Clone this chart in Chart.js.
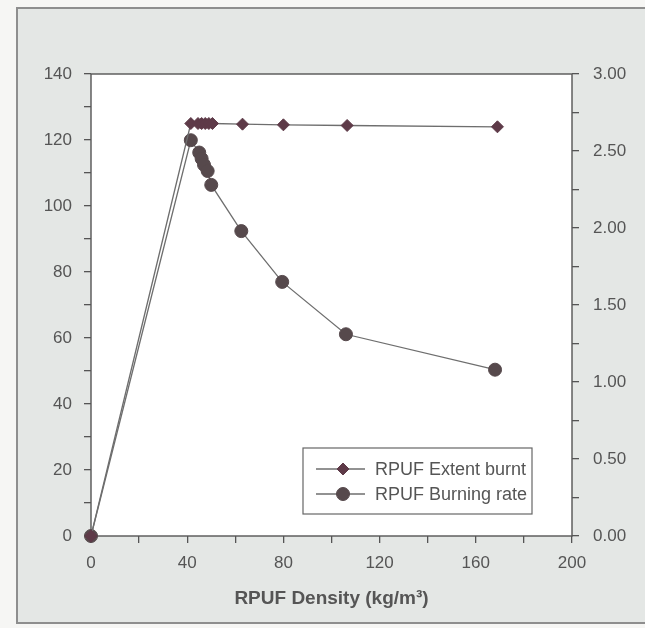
<!doctype html>
<html lang="en">
<head>
<meta charset="utf-8">
<title>RPUF Density</title>
<script src="https://cdn.jsdelivr.net/npm/chart.js@4.4.1/dist/chart.umd.min.js"></script>
<style>
    html, body { margin: 0; padding: 0; background: #f6f6f4; }
    #frame {
        position: absolute; left: 16px; top: 7px; width: 640px; height: 617px;
        box-sizing: border-box; background: #e4e7e5; border: 2px solid #8e8e8e;
    }
    #wrap { position: absolute; left: 0; top: 0; width: 645px; height: 628px; }
</style>
</head>
<body>
<div id="frame"></div>
<div id="wrap"><canvas id="myChart" width="645" height="628"></canvas></div>
<script>
    // values
    var densityExtent = [0, 41.5, 44.5, 46, 47.5, 49, 50.5, 63, 80, 106.5, 169];
    var extentBurnt   = [0, 125, 125, 125, 125, 125, 125, 124.8, 124.6, 124.4, 124];

    var densityRate  = [0, 41.5, 45, 46, 47, 48.5, 50, 62.5, 79.5, 106, 168];
    var burningRate  = [0, 2.57, 2.49, 2.45, 2.41, 2.37, 2.28, 1.98, 1.65, 1.31, 1.08];

    var xTicks  = [0, 40, 80, 120, 160, 200];
    var yTicks  = [0, 20, 40, 60, 80, 100, 120, 140];
    var y1Ticks = [0, 0.5, 1, 1.5, 2, 2.5, 3];

    var FONT = "'Liberation Sans', Arial, sans-serif";
    var TXT = '#555';
    var AXIS = '#555';

    function pts(xs, ys) {
        return xs.map(function (x, i) { return { x: x, y: ys[i] }; });
    }

    // white plot box + frame
    var plotBox = {
        id: 'plotBox',
        beforeDraw: function (chart) {
            var a = chart.chartArea, ctx = chart.ctx;
            ctx.save();
            ctx.fillStyle = '#fff';
            ctx.fillRect(a.left, a.top, a.right - a.left, a.bottom - a.top);
            ctx.strokeStyle = AXIS;
            ctx.lineWidth = 1.4;
            ctx.strokeRect(a.left, a.top, a.right - a.left, a.bottom - a.top);
            ctx.restore();
        }
    };

    // boxed legend inside the plot, bottom right
    var boxLegend = {
        id: 'boxLegend',
        afterDraw: function (chart) {
            var a = chart.chartArea, ctx = chart.ctx;
            var w = 229, h = 66;
            var x0 = a.right - 40 - w, y0 = a.bottom - 22 - h;
            ctx.save();
            ctx.fillStyle = '#fff';
            ctx.fillRect(x0, y0, w, h);
            ctx.strokeStyle = '#666';
            ctx.lineWidth = 1.2;
            ctx.strokeRect(x0, y0, w, h);
            chart.data.datasets.forEach(function (ds, i) {
                var cy = y0 + 21 + i * 25;
                ctx.strokeStyle = ds.borderColor;
                ctx.lineWidth = ds.borderWidth;
                ctx.beginPath();
                ctx.moveTo(x0 + 13, cy);
                ctx.lineTo(x0 + 62, cy);
                ctx.stroke();
                ctx.fillStyle = ds.pointBackgroundColor;
                ctx.strokeStyle = ds.pointBorderColor;
                ctx.lineWidth = 1;
                Chart.helpers.drawPoint(ctx, { pointStyle: ds.pointStyle, radius: ds.pointRadius, rotation: 0, borderWidth: 1 }, x0 + 40, cy);
                ctx.fillStyle = TXT;
                ctx.font = '18px ' + FONT;
                ctx.textBaseline = 'middle';
                ctx.textAlign = 'left';
                ctx.fillText(ds.label, x0 + 72, cy + 1);
            });
            ctx.restore();
        }
    };

    var ctx = document.getElementById('myChart');
    var myChart = new Chart(ctx, {
        type: 'line',
        data: {
            datasets: [{
                label: 'RPUF Extent burnt',
                data: pts(densityExtent, extentBurnt),
                yAxisID: 'y',
                borderColor: '#6e6e6e',
                borderWidth: 1.3,
                pointStyle: 'rectRot',
                pointRadius: 6,
                pointBackgroundColor: '#5e3a48',
                pointBorderColor: '#5e3a48',
                pointBorderWidth: 1,
                clip: false,
                tension: 0
            }, {
                label: 'RPUF Burning rate',
                data: pts(densityRate, burningRate),
                yAxisID: 'y1',
                borderColor: '#6e6e6e',
                borderWidth: 1.3,
                pointStyle: 'circle',
                pointRadius: 6.5,
                pointBackgroundColor: '#56494c',
                pointBorderColor: '#56494c',
                pointBorderWidth: 1,
                clip: false,
                tension: 0
            }]
        },
        options: {
            responsive: false,
            devicePixelRatio: 1,
            animation: false,
            events: [],
            layout: { padding: { top: 74, left: 0, right: 0, bottom: 0 } },
            plugins: {
                legend: { display: false },
                tooltip: { enabled: false }
            },
            scales: {
                x: {
                    type: 'linear', position: 'bottom', min: 0, max: 200,
                    ticks: {
                        stepSize: 20, autoSkip: false, maxRotation: 0, padding: 10,
                        color: TXT, font: { family: FONT, size: 17 },
                        callback: function (v) { return xTicks.indexOf(v) >= 0 ? String(v) : ''; }
                    },
                    grid: { drawOnChartArea: false, tickLength: 7, color: AXIS, lineWidth: 1.3 },
                    border: { display: false },
                    title: {
                        display: true, text: 'RPUF Density (kg/m³)', color: TXT,
                        font: { family: FONT, size: 19, weight: 'bold' },
                        padding: { top: 0, bottom: 18 }
                    },
                    afterFit: function (s) { s.height = 92; }
                },
                y: {
                    position: 'left', min: 0, max: 140,
                    ticks: {
                        stepSize: 10, autoSkip: false, padding: 12,
                        color: TXT, font: { family: FONT, size: 17 },
                        callback: function (v) { return yTicks.indexOf(v) >= 0 ? String(v) : ''; }
                    },
                    grid: { drawOnChartArea: false, tickLength: 7, color: AXIS, lineWidth: 1.3 },
                    border: { display: false },
                    afterFit: function (s) { s.width = 91; }
                },
                y1: {
                    position: 'right', min: 0, max: 3,
                    ticks: {
                        stepSize: 0.25, autoSkip: false, padding: 14,
                        color: TXT, font: { family: FONT, size: 17 },
                        callback: function (v) {
                            var r = Math.round(v * 100) / 100;
                            return y1Ticks.indexOf(r) >= 0 ? r.toFixed(2) : '';
                        }
                    },
                    grid: { drawOnChartArea: false, tickLength: 7, color: AXIS, lineWidth: 1.3 },
                    border: { display: false },
                    afterFit: function (s) { s.width = 73; }
                }
            }
        },
        plugins: [plotBox, boxLegend]
    });
</script>
</body>
</html>
